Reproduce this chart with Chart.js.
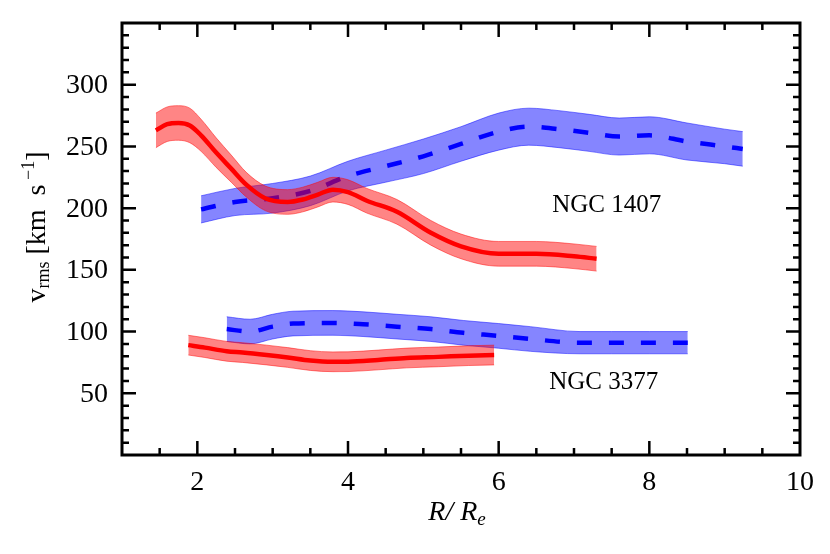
<!DOCTYPE html>
<html>
<head>
<meta charset="utf-8">
<script src="https://cdn.jsdelivr.net/npm/chart.js@4/dist/chart.umd.min.js"></script>
<style>
  body { margin: 0; background: #fff; }
  #wrap { width: 830px; height: 554px; position: relative; }
</style>
</head>
<body>
<div id="wrap"><canvas id="vrmsChart"></canvas></div>
<script>
// tick labels
const xTicks = [2, 4, 6, 8, 10];
const yTicks = [50, 100, 150, 200, 250, 300];

// NGC 1407 (red = solid, blue = dashed)
const red1407X = [1.45, 1.6, 1.75, 1.9, 2.05, 2.25, 2.45, 2.65, 2.9, 3.2, 3.4, 3.6, 3.8, 4.0, 4.25, 4.65, 5.1, 5.5, 6.0, 6.5, 7.0, 7.3];
const red1407V = [263, 268, 269, 267, 259, 245, 232, 219, 208, 205, 207, 211, 215, 213, 206, 197, 180, 169, 163, 163, 161, 159];
const red1407E = [14, 14, 14, 14, 13, 12, 11, 10, 10, 10, 10, 10, 10, 10, 10, 10, 10, 10, 10, 10, 10, 10];

const blue1407X = [2.05, 2.5, 3.0, 3.5, 4.0, 4.5, 5.0, 5.5, 6.0, 6.4, 6.8, 7.2, 7.6, 8.0, 8.5, 9.0, 9.24];
const blue1407V = [199, 205, 208, 214, 226, 234, 242, 252, 262, 266, 264, 261, 258, 259, 254, 250, 248];
const blue1407E = [11, 11, 12, 12, 12, 13, 14, 14, 15, 15, 15, 15, 15, 15, 15, 14, 14];

// NGC 3377
const red3377X = [1.88, 2.1, 2.39, 2.6, 2.92, 3.2, 3.5, 3.8, 4.0, 4.4, 4.78, 5.2, 5.6, 5.94];
const red3377V = [89, 87, 84, 83, 81, 79, 76.5, 75.5, 75.6, 77, 78.6, 79.5, 80.5, 81];
const red3377E = [8, 8, 8, 8, 8, 8, 8, 8, 8, 8, 8, 8, 8, 8];

const blue3377X = [2.39, 2.7, 3.0, 3.27, 3.8, 4.2, 4.65, 5.1, 5.53, 6.0, 6.42, 7.08, 7.5, 8.0, 8.51];
const blue3377V = [102, 100, 104, 106.5, 107, 106, 104, 102, 99, 96.5, 94, 91, 91, 91, 91];
const blue3377E = [10, 10, 10, 10, 10, 10, 10, 10, 10, 10, 10, 9, 9, 9, 9];

const serif = "'Liberation Serif', 'DejaVu Serif', serif";
const redBand = 'rgba(255, 0, 0, 0.48)';
const blueBand = 'rgba(0, 0, 255, 0.48)';

const pts = (xs, ys, off) => xs.map((x, i) => ({ x: x, y: ys[i] + (off ? off[i] : 0) }));
const neg = (arr) => arr.map((v) => -v);

// builds the 3 datasets (line, upper edge filled down to lower edge) of one curve
const curve = (xs, vs, es, color, band, dashed, order) => [
  {
    data: pts(xs, vs),
    borderColor: color,
    borderWidth: 4.5,
    borderDash: dashed ? [15, 17] : [],
    pointRadius: 0,
    cubicInterpolationMode: 'monotone',
    fill: false,
    order: order,
  },
  {
    data: pts(xs, vs, es),
    borderColor: band,
    borderWidth: 1,
    backgroundColor: band,
    pointRadius: 0,
    cubicInterpolationMode: 'monotone',
    fill: '+1',
    order: order + 1,
  },
  {
    data: pts(xs, vs, neg(es)),
    borderColor: band,
    borderWidth: 1,
    pointRadius: 0,
    cubicInterpolationMode: 'monotone',
    fill: false,
    order: order + 1,
  },
];

// frame with inward ticks on all four sides, tick labels, axis titles and galaxy labels
const framePlugin = {
  id: 'framePlugin',
  afterDraw(chart) {
    const { ctx, chartArea: a, scales } = chart;
    const x = scales.x;
    const y = scales.y;
    ctx.save();
    ctx.strokeStyle = '#000';
    ctx.lineWidth = 3;
    ctx.strokeRect(a.left, a.top, a.right - a.left, a.bottom - a.top);

    ctx.lineWidth = 2.5;
    ctx.beginPath();
    for (let v = 1.5; v < 10; v += 0.5) {
      const px = x.getPixelForValue(v);
      const len = v % 2 === 0 ? 14 : 7;
      ctx.moveTo(px, a.bottom); ctx.lineTo(px, a.bottom - len);
      ctx.moveTo(px, a.top); ctx.lineTo(px, a.top + len);
    }
    for (let v = 10; v < 350; v += 10) {
      const py = y.getPixelForValue(v);
      const len = v % 50 === 0 ? 14 : 7;
      ctx.moveTo(a.left, py); ctx.lineTo(a.left + len, py);
      ctx.moveTo(a.right, py); ctx.lineTo(a.right - len, py);
    }
    ctx.stroke();

    ctx.fillStyle = '#000';

    // tick labels
    ctx.font = `28px ${serif}`;
    ctx.textAlign = 'center';
    ctx.textBaseline = 'alphabetic';
    xTicks.forEach((v) => ctx.fillText(String(v), x.getPixelForValue(v), 490));
    ctx.textAlign = 'right';
    ctx.textBaseline = 'middle';
    yTicks.forEach((v) => ctx.fillText(String(v), 108, y.getPixelForValue(v) + 1));

    ctx.textBaseline = 'alphabetic';

    // galaxy labels
    ctx.font = `25px ${serif}`;
    ctx.textAlign = 'left';
    ctx.fillText('NGC 1407', x.getPixelForValue(6.71), y.getPixelForValue(197));
    ctx.fillText('NGC 3377', x.getPixelForValue(6.67), y.getPixelForValue(53.7));

    // draws a run of [text, size, shift, italic] pieces centred at 0
    const run = (pieces) => {
      let total = 0;
      pieces.forEach((p) => {
        ctx.font = `${p[3] ? 'italic ' : ''}${p[1]}px ${serif}`;
        total += ctx.measureText(p[0]).width;
      });
      let cx = -total / 2;
      pieces.forEach((p) => {
        ctx.font = `${p[3] ? 'italic ' : ''}${p[1]}px ${serif}`;
        ctx.fillText(p[0], cx, p[2]);
        cx += ctx.measureText(p[0]).width;
      });
    };

    // x title
    ctx.save();
    ctx.translate(457, 520);
    run([['R/ R', 28, 0, true], ['e', 19, 5, true]]);
    ctx.restore();

    // y title
    ctx.save();
    ctx.translate(45, 227);
    ctx.rotate(-Math.PI / 2);
    run([
      ['v', 28, 0, false],
      ['rms', 18, 4, false],
      [' [km  s', 28, 0, false],
      [' \u22121', 18, -11, false],
      [']', 28, 0, false],
    ]);
    ctx.restore();

    ctx.restore();
  },
};

const config = {
  type: 'line',
  data: {
    datasets: [
      ...curve(red1407X, red1407V, red1407E, '#FF0000', redBand, false, 1),
      ...curve(red3377X, red3377V, red3377E, '#FF0000', redBand, false, 1),
      ...curve(blue1407X, blue1407V, blue1407E, '#0000FF', blueBand, true, 3),
      ...curve(blue3377X, blue3377V, blue3377E, '#0000FF', blueBand, true, 3),
    ],
  },
  options: {
    responsive: true,
    maintainAspectRatio: false,
    animation: false,
    events: [],
    layout: { padding: { top: 23, right: 30, left: 0, bottom: 0 } },
    plugins: {
      legend: { display: false },
      tooltip: { enabled: false },
    },
    scales: {
      x: {
        type: 'linear',
        min: 1,
        max: 10,
        afterBuildTicks: (s) => { s.ticks = xTicks.map((v) => ({ value: v })); },
        afterFit: (s) => { s.height = 99; },
        grid: { display: false, drawTicks: false },
        border: { display: false },
        ticks: { display: false },
      },
      y: {
        type: 'linear',
        min: 0,
        max: 350,
        afterBuildTicks: (s) => { s.ticks = yTicks.map((v) => ({ value: v })); },
        afterFit: (s) => { s.width = 122; },
        grid: { display: false, drawTicks: false },
        border: { display: false },
        ticks: { display: false },
      },
    },
  },
  plugins: [framePlugin],
};

const vrmsChart = new Chart(document.getElementById('vrmsChart'), config);
</script>
</body>
</html>
